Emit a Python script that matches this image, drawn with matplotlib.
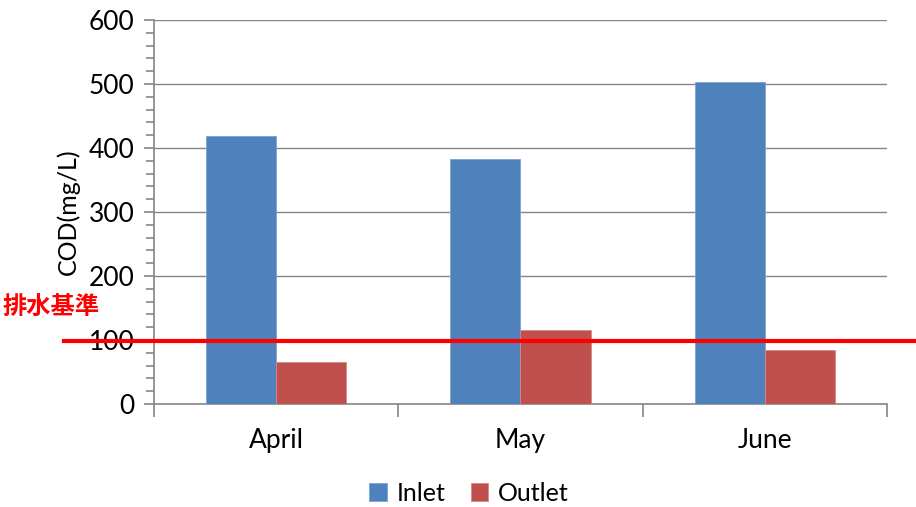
import numpy as np
import matplotlib.pyplot as plt
from matplotlib.ticker import MultipleLocator

# Data
months = ["April", "May", "June"]
inlet = [418, 383, 503]
outlet = [65, 116, 84]
standard = 98  # 排水基準 (discharge standard)

plt.rcParams['font.family'] = ['Lato', 'DejaVu Sans']

fig = plt.figure(figsize=(9.16, 5.07), dpi=100)
ax = fig.add_axes([0.1681, 0.2032, 0.8002, 0.7574])

x = np.arange(len(months))
w = 0.287
blue = "#4F81BD"
red = "#C0504D"

ax.bar(x - w / 2, inlet, w, color=blue, edgecolor="#7FA2D0", linewidth=0.6,
       label="Inlet", zorder=3)
ax.bar(x + w / 2, outlet, w, color=red, edgecolor="#D48A88", linewidth=0.6,
       label="Outlet", zorder=3)

ax.set_xlim(-0.5, len(months) - 0.5)
ax.set_ylim(0, 600)
ax.yaxis.set_major_locator(MultipleLocator(100))
ax.yaxis.set_minor_locator(MultipleLocator(20))
ax.set_xticks(x)
ax.set_xticklabels(months)
ax.set_xticks(np.arange(len(months) + 1) - 0.5, minor=True)

ax.tick_params(axis="x", which="major", length=0, labelsize=19, pad=17)
ax.tick_params(axis="x", which="minor", length=9, color="#868686", width=1.2)
ax.tick_params(axis="y", which="major", length=7, color="#868686", width=1.2,
               labelsize=19, pad=7)
ax.tick_params(axis="y", which="minor", length=6, color="#868686", width=1.2)

ax.grid(axis="y", which="major", color="#868686", linewidth=1.0, zorder=0)
ax.set_axisbelow(True)
for s in ["top", "right"]:
    ax.spines[s].set_visible(False)
for s in ["left", "bottom"]:
    ax.spines[s].set_color("#868686")
    ax.spines[s].set_linewidth(1.2)

ax.set_ylabel("COD(mg/L)", fontsize=18, labelpad=6)

# discharge standard line, runs outside the plot area
ax.axhline(standard, xmin=-0.123, xmax=1.04, color="#FF0000", linewidth=3.0,
           clip_on=False, zorder=5)
fig.text(0.003, 0.394, "排水基準", color="#FF0000", fontsize=17.5, fontweight="bold",
         family=["Noto Sans CJK JP", "DejaVu Sans"], va="center", ha="left")

ax.legend(loc="center", bbox_to_anchor=(0.43, -0.232), ncol=2, frameon=False,
          fontsize=18, handlelength=0.7, handleheight=0.7, handletextpad=0.4,
          columnspacing=1.0, borderpad=0.2)

fig.savefig("out.png", dpi=100)
